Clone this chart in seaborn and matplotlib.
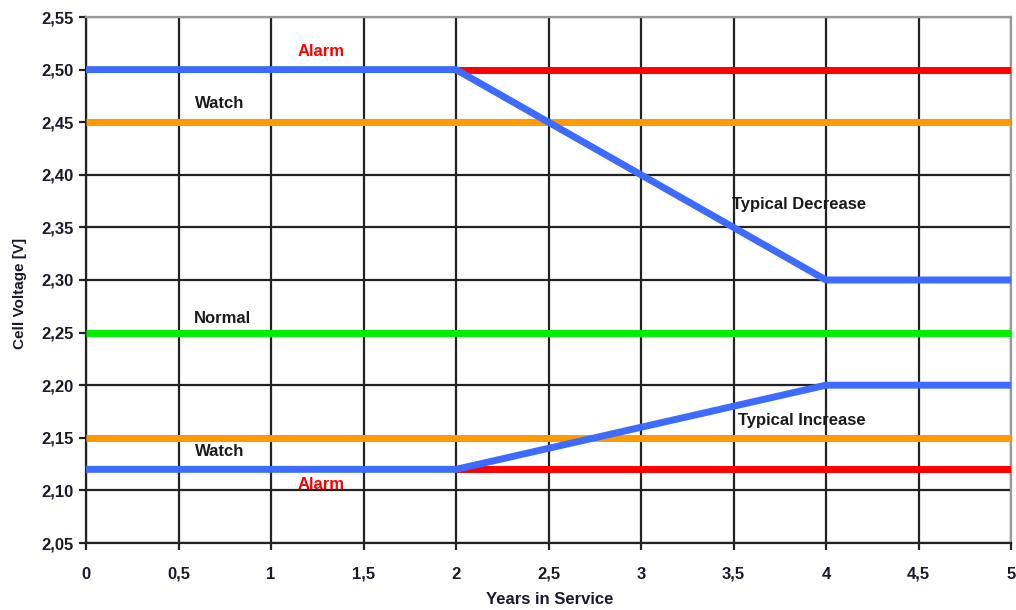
import matplotlib
matplotlib.use("Agg")
import matplotlib.pyplot as plt
import seaborn as sns
import pandas as pd

# ---- data ----
years_full = [0, 5]
years_half = [2, 5]
typ_x = [0, 2, 4, 5]
typical_decrease = [2.50, 2.50, 2.30, 2.30]
typical_increase = [2.12, 2.12, 2.20, 2.20]
alarm_high = [2.50, 2.50]
alarm_low = [2.12, 2.12]
watch_high = [2.45, 2.45]
watch_low = [2.15, 2.15]
normal = [2.25, 2.25]

x_ticks = [0, 0.5, 1, 1.5, 2, 2.5, 3, 3.5, 4, 4.5, 5]
x_tick_labels = ["0", "0,5", "1", "1,5", "2", "2,5", "3", "3,5", "4", "4,5", "5"]
y_ticks = [2.05, 2.10, 2.15, 2.20, 2.25, 2.30, 2.35, 2.40, 2.45, 2.50, 2.55]
y_tick_labels = ["2,05", "2,10", "2,15", "2,20", "2,25", "2,30", "2,35", "2,40", "2,45", "2,50", "2,55"]

labels = ["Alarm", "Watch", "Typical Decrease", "Normal", "Typical Increase", "Watch", "Alarm"]
label_x = [1.27, 0.72, 3.855, 0.74, 3.87, 0.72, 1.27]
label_y = [2.517, 2.468, 2.372, 2.263, 2.166, 2.137, 2.106]
label_colors = ["#ff0000", "#1a1a1a", "#1a1a1a", "#1a1a1a", "#1a1a1a", "#1a1a1a", "#ff0000"]

sns.set_theme(style="white")
plt.rcParams['font.family'] = ['Liberation Sans', 'DejaVu Sans']

fig = plt.figure(figsize=(10.16, 6.10), dpi=100)
ax = fig.add_axes([86/1016, 1 - 543/610, (1011-86)/1016, (543-17)/610])

BLUE = "#3d6bff"
RED = "#ff0000"
ORANGE = "#ff9900"
GREEN = "#00ee00"
LW = 5

def line(x, y, color, z):
    df = pd.DataFrame({"x": x, "y": y})
    sns.lineplot(data=df, x="x", y="y", color=color, linewidth=LW, ax=ax,
                 estimator=None, sort=False, zorder=z, solid_capstyle="butt")

line(years_full, watch_high, ORANGE, 3)
line(years_full, watch_low, ORANGE, 3)
line(years_full, normal, GREEN, 3)
line(years_half, alarm_high, RED, 4)
line(years_half, alarm_low, RED, 4)
line(typ_x, typical_decrease, BLUE, 5)
line(typ_x, typical_increase, BLUE, 5)

ax.set_xlim(0, 5)
ax.set_ylim(2.05, 2.55)
ax.set_xticks(x_ticks)
ax.set_xticklabels(x_tick_labels, fontsize=12, fontweight="bold", color="#1a1a2a")
ax.set_yticks(y_ticks)
ax.set_yticklabels(y_tick_labels, fontsize=12, fontweight="bold", color="#1a1a2a")
ax.tick_params(axis="both", direction="out", length=5, width=1.6, color="#222222",
               bottom=True, left=True)
ax.tick_params(axis="x", pad=12)
ax.tick_params(axis="y", pad=4)

ax.grid(True, color="#222222", linewidth=1.6, zorder=1)
ax.set_axisbelow(True)
for s in ["left", "bottom"]:
    ax.spines[s].set_color("#222222")
    ax.spines[s].set_linewidth(1.6)
for s in ["top", "right"]:
    ax.spines[s].set_color("#999999")
    ax.spines[s].set_linewidth(1.6)

ax.set_xlabel("Years in Service", fontsize=12, fontweight="bold", color="#1a1a2a")
ax.set_ylabel("Cell Voltage [V]", fontsize=11, fontweight="bold", color="#1a1a2a")
ax.xaxis.set_label_coords(0.5016, -0.094)
ax.yaxis.set_label_coords(-0.071, 0.475)
ax.yaxis.label.set_va("center")

for t, xx, yy, c in zip(labels, label_x, label_y, label_colors):
    ax.text(xx, yy, t, ha="center", va="center", fontsize=12, fontweight="bold", color=c, zorder=6)

fig.savefig("out.png", dpi=100)
